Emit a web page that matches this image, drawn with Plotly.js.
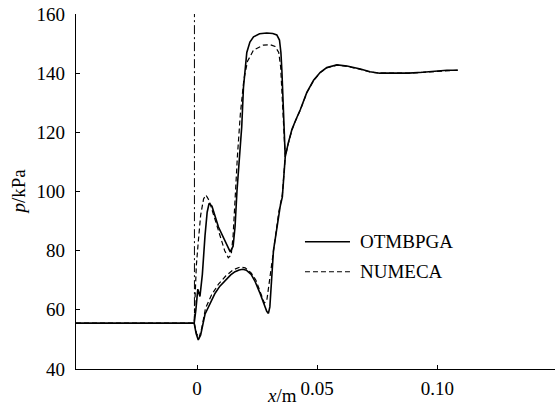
<!DOCTYPE html>
<html>
<head>
<meta charset="utf-8">
<script src="https://cdn.plot.ly/plotly-3.0.1.min.js"></script>
<style>html,body{margin:0;padding:0;background:#fff;}#chart{width:556px;height:411px;}</style>
</head>
<body>
<div id="chart"></div>
<script>
// Upstream (shared inlet region)
var upstreamX = [-0.0504, -0.030, -0.015, -0.0012];
var upstreamY = [55.5, 55.5, 55.5, 55.5];

// OTMBPGA (solid)
var otmUpperX = [-0.0012, -0.0005, 0.0003, 0.0012, 0.0022, 0.0033, 0.0042, 0.0050, 0.0062, 0.0089, 0.0117, 0.0138, 0.0150, 0.0158, 0.0166, 0.0176, 0.0186, 0.0193, 0.0200, 0.0207, 0.0220, 0.0235, 0.0260, 0.0290, 0.0315, 0.0332, 0.0343, 0.0349, 0.0353, 0.0358, 0.0362, 0.0367];
var otmUpperY = [55.5, 60, 67, 64.5, 72, 85, 93, 96, 95, 88, 83.5, 79.6, 81.5, 88, 100, 111, 122, 135, 142, 147, 150.5, 152.3, 153.3, 153.6, 153.4, 152.9, 151.2, 147, 141, 130, 120, 111.7];
var otmLowerX = [-0.0012, -0.0004, 0.0005, 0.0015, 0.0033, 0.0055, 0.0075, 0.0095, 0.0117, 0.0140, 0.0158, 0.0175, 0.0190, 0.0205, 0.0225, 0.0242, 0.0260, 0.0275, 0.0290, 0.0297, 0.0303, 0.0318, 0.0332, 0.0346, 0.0355, 0.0360, 0.0364, 0.0367];
var otmLowerY = [55.5, 52, 49.8, 51.5, 58.5, 62.5, 65.6, 68, 70, 71.8, 72.9, 73.5, 73.7, 73.4, 72, 69.5, 66, 62.5, 59.5, 58.8, 61, 80, 88, 95, 98.2, 103, 108, 111.7];
var otmWakeX = [0.0367, 0.0380, 0.0395, 0.0410, 0.0430, 0.0457, 0.0485, 0.0513, 0.0540, 0.0582, 0.0624, 0.0680, 0.0720, 0.0760, 0.0820, 0.0880, 0.0940, 0.0990, 0.1040, 0.1085];
var otmWakeY = [111.7, 116.5, 121, 124, 127.7, 133.5, 137.6, 140.3, 141.9, 142.8, 142.4, 141.4, 140.5, 140.0, 139.9, 140.0, 140.3, 140.7, 141.0, 141.0];

// NUMECA (dashed)
var numUpperX = [-0.0012, -0.0008, -0.0003, 0.0005, 0.0015, 0.0027, 0.0037, 0.0050, 0.0070, 0.0095, 0.0115, 0.0130, 0.0142, 0.0150, 0.0158, 0.0168, 0.0180, 0.0195, 0.0210, 0.0235, 0.0276, 0.0305, 0.0325, 0.0340, 0.0348, 0.0353, 0.0360, 0.0367];
var numUpperY = [55.5, 65, 75, 83, 92, 97.5, 98.8, 97, 92, 85.5, 80, 77.6, 78.5, 85, 98, 112, 126, 138, 144, 147.8, 149.5, 149.6, 149, 147, 142, 135, 122, 111.7];
var numLowerX = [-0.0012, -0.0002, 0.0008, 0.0020, 0.0035, 0.0060, 0.0090, 0.0120, 0.0150, 0.0180, 0.0200, 0.0225, 0.0245, 0.0265, 0.0280, 0.0290, 0.0305, 0.0320, 0.0340, 0.0355, 0.0362, 0.0367];
var numLowerY = [55.5, 52, 50.5, 54, 60.5, 65, 68.8, 71.5, 73.5, 74.5, 74.2, 72.5, 70, 65.5, 62.3, 63, 72, 82, 93, 99, 105, 111.7];
var numWakeX = [0.0367, 0.0380, 0.0395, 0.0410, 0.0430, 0.0457, 0.0485, 0.0513, 0.0540, 0.0582, 0.0624, 0.0680, 0.0720, 0.0760, 0.0820, 0.0880, 0.0940, 0.0990, 0.1040, 0.1085];
var numWakeY = [111.7, 116.3, 120.8, 123.9, 127.6, 133.4, 137.5, 140.2, 141.8, 142.7, 142.3, 141.3, 140.4, 140.0, 139.9, 140.0, 140.3, 140.6, 140.9, 141.0];

// Leading-edge reference line
var refLineX = [-0.0011, -0.0011];
var refLineY = [55.5, 160];

// Axis ticks
var xTickVals = [0, 0.05, 0.10];
var xTickText = ['0', '0.05', '0.10'];
var yTickVals = [40, 60, 80, 100, 120, 140, 160];

var seriesNames = ['OTMBPGA', 'NUMECA'];

function joinSeg() {
  var xs = [], ys = [];
  for (var i = 0; i < arguments.length; i += 2) {
    if (i > 0) { xs.push(null); ys.push(null); }
    xs = xs.concat(arguments[i]); ys = ys.concat(arguments[i + 1]);
  }
  return {x: xs, y: ys};
}

var otm = joinSeg(upstreamX.concat(otmUpperX.slice(1)).concat(otmWakeX.slice(1)),
                  upstreamY.concat(otmUpperY.slice(1)).concat(otmWakeY.slice(1)),
                  otmLowerX, otmLowerY);
var num = joinSeg(upstreamX.concat(numUpperX.slice(1)).concat(numWakeX.slice(1)),
                  upstreamY.concat(numUpperY.slice(1)).concat(numWakeY.slice(1)),
                  numLowerX, numLowerY);

var FONT = 'Liberation Serif, Times New Roman, serif';

var traces = [
  {x: refLineX, y: refLineY, mode: 'lines', line: {color: '#000', width: 1, dash: '9px,3px,2px,3px'}, showlegend: false, hoverinfo: 'skip'},
  {x: num.x, y: num.y, mode: 'lines', name: seriesNames[1], line: {color: '#000', width: 1.2, dash: '5px,3px'}, showlegend: false, connectgaps: false},
  {x: otm.x, y: otm.y, mode: 'lines', name: seriesNames[0], line: {color: '#000', width: 1.6}, showlegend: false, connectgaps: false}
];

var layout = {
  width: 556, height: 411,
  margin: {l: 76, r: 1, t: 14, b: 42},
  paper_bgcolor: '#fff', plot_bgcolor: '#fff',
  font: {family: FONT, size: 19, color: '#000'},
  showlegend: false,
  xaxis: {
    range: [-0.0504, 0.149], tickvals: xTickVals, ticktext: xTickText,
    ticks: 'inside', ticklen: 4, tickwidth: 1, tickcolor: '#000',
    showline: true, linecolor: '#000', linewidth: 1.2, mirror: false,
    showgrid: false, zeroline: false, ticklabelstandoff: 2,
    tickfont: {family: FONT, size: 19, color: '#000'}
  },
  yaxis: {
    range: [40, 160], tickvals: yTickVals,
    ticks: 'inside', ticklen: 4, tickwidth: 1, tickcolor: '#000',
    showline: true, linecolor: '#000', linewidth: 1.2, mirror: false,
    showgrid: false, zeroline: false, ticklabelstandoff: 6,
    tickfont: {family: FONT, size: 19, color: '#000'}
  },
  shapes: [
    {type: 'line', xref: 'paper', yref: 'paper', x0: 0.478, x1: 0.572, y0: 0.3586, y1: 0.3586, line: {color: '#000', width: 1.6}},
    {type: 'line', xref: 'paper', yref: 'paper', x0: 0.478, x1: 0.572, y0: 0.274, y1: 0.274, line: {color: '#000', width: 1.2, dash: '5px,3px'}}
  ],
  annotations: [
    {xref: 'paper', yref: 'paper', x: 0.589, y: 0.3586, xanchor: 'left', yanchor: 'middle', text: seriesNames[0], showarrow: false, font: {family: FONT, size: 19, color: '#000'}},
    {xref: 'paper', yref: 'paper', x: 0.589, y: 0.274, xanchor: 'left', yanchor: 'middle', text: seriesNames[1], showarrow: false, font: {family: FONT, size: 19, color: '#000'}},
    {xref: 'paper', yref: 'paper', x: 0.430, y: -0.076, xanchor: 'center', yanchor: 'middle', text: '<i>x</i>/m', showarrow: false, font: {family: FONT, size: 19, color: '#000'}},
    {xref: 'paper', yref: 'paper', x: -0.119, y: 0.5, xanchor: 'center', yanchor: 'middle', textangle: -90, text: '<i>p</i>/kPa', showarrow: false, font: {family: FONT, size: 19, color: '#000'}}
  ]
};

Plotly.newPlot('chart', traces, layout, {staticPlot: true, displayModeBar: false});
</script>
</body>
</html>
